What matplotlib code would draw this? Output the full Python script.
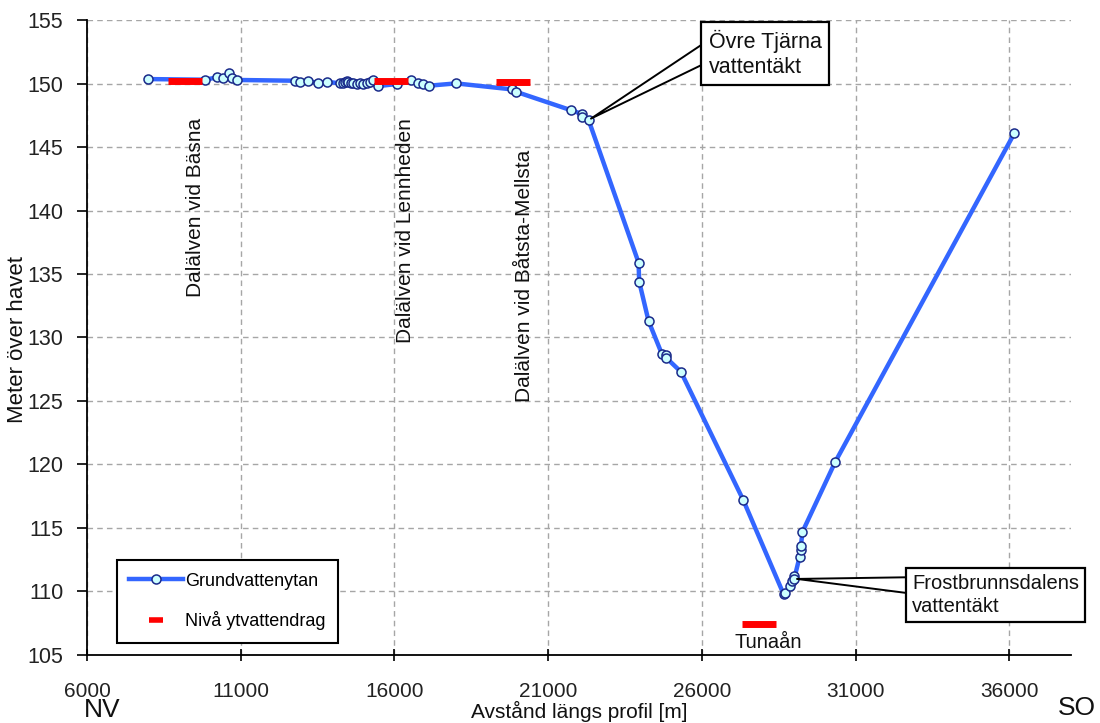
import matplotlib
matplotlib.use("Agg")
import matplotlib.pyplot as plt
from matplotlib.lines import Line2D

plt.rcParams['font.family'] = ['Liberation Sans', 'DejaVu Sans']

# Grundvattenytan (distance along profile [m], level [m ö.h.])
gw_x = [7995, 9839, 10239, 10434, 10620, 10707, 10869, 12767, 12930, 13201,
        13527, 13800, 14230, 14317, 14392, 14447, 14500, 14577, 14662, 14773,
        14880, 14988, 15098, 15205, 15314, 15478, 16075, 16541, 16778, 16941,
        17126, 18004, 19813, 19954, 21738, 22096, 22096, 22312, 23937, 23958,
        24262, 24696, 24837, 24837, 25315, 27342, 28652, 28707, 28869, 28924,
        28977, 29000, 29172, 29217, 29217, 29269, 30333, 36163]
gw_y = [150.35, 150.30, 150.49, 150.41, 150.85, 150.41, 150.28, 150.22, 150.09, 150.22,
        150.01, 150.14, 150.01, 150.06, 150.12, 150.22, 150.12, 150.01, 150.06, 149.96,
        150.01, 149.96, 150.06, 150.14, 150.28, 149.80, 149.96, 150.28, 150.01, 149.96,
        149.83, 150.01, 149.54, 149.35, 147.90, 147.60, 147.34, 147.13, 135.90, 134.40,
        131.30, 128.70, 128.60, 128.40, 127.30, 117.20, 109.80, 109.90, 110.40, 110.80,
        111.20, 111.00, 112.70, 113.30, 113.60, 114.70, 120.20, 146.10]

# Nivå ytvattendrag
sw_x = [9180, 15900, 19860, 27860]
sw_y = [150.20, 150.20, 150.10, 107.40]

# Labels
river_labels = ["Dalälven vid Bäsna", "Dalälven vid Lennheden", "Dalälven vid Båtsta-Mellsta"]
river_label_x = [9514, 16345, 20217]
river_label_top = [147.3, 147.3, 144.8]

xticks = [6000, 11000, 16000, 21000, 26000, 31000, 36000]
yticks = [105, 110, 115, 120, 125, 130, 135, 140, 145, 150, 155]

fig = plt.figure(figsize=(11, 7.23), dpi=100)
ax = fig.add_axes([0.0791, 0.0941, 0.8945, 0.8782])

ax.set_xlim(6000, 38000)
ax.set_ylim(105, 155)
ax.set_xticks(xticks)
ax.set_yticks(yticks)
ax.grid(True, color='#a6a6a6', linestyle=(0, (4, 3)), linewidth=1.0)
ax.set_axisbelow(True)

for s in ['top', 'right']:
    ax.spines[s].set_visible(False)
for s in ['left', 'bottom']:
    ax.spines[s].set_linewidth(1.3)
    ax.spines[s].set_color('black')

ax.tick_params(axis='y', direction='out', length=7, width=1.2, pad=10, labelsize=15.5, labelcolor='#222222')
ax.tick_params(axis='x', direction='inout', length=9, width=1.2, pad=15, labelsize=15, labelcolor='#222222')

ax.plot(gw_x, gw_y, color='#3366ff', linewidth=3.2, marker='o', markersize=6.5,
        markerfacecolor='#ccffff', markeredgecolor='#1a2a8a', markeredgewidth=1.1, zorder=3)
ax.plot(sw_x, sw_y, linestyle='none', marker='_', markersize=24, markeredgewidth=5,
        color='#ff0000', zorder=4)

for lab, lx, ly in zip(river_labels, river_label_x, river_label_top):
    ax.text(lx, ly, lab, rotation=90, ha='center', va='top', fontsize=15, color='#111111')

ax.text(28152, 106.0, "Tunaån", ha='center', va='center', fontsize=14.5, color='#111111')

# Callouts
ax.annotate("Övre Tjärna\nvattentäkt", xy=(gw_x[37], gw_y[37]), xytext=(28057, 152.36),
            ha='center', va='center', multialignment='left', fontsize=15.5, color='#111111',
            linespacing=1.25,
            bbox=dict(boxstyle='square,pad=0.35', fc='white', ec='black', lw=1.6),
            arrowprops=dict(arrowstyle='wedge,tail_width=0.85,shrink_factor=0.5',
                            fc='white', ec='black', lw=1.4, relpos=(0, 0.55), patchA=None),
            zorder=6)
ax.annotate("Frostbrunnsdalens\nvattentäkt", xy=(gw_x[51], gw_y[51]), xytext=(35560, 109.72),
            ha='center', va='center', multialignment='left', fontsize=14.5, color='#111111',
            linespacing=1.25,
            bbox=dict(boxstyle='square,pad=0.3', fc='white', ec='black', lw=1.6),
            arrowprops=dict(arrowstyle='wedge,tail_width=0.8,shrink_factor=0.5',
                            fc='white', ec='black', lw=1.4, relpos=(0, 0.73), patchA=None),
            zorder=6, annotation_clip=False)

# Legend
h1 = Line2D([], [], color='#3366ff', linewidth=3.2, marker='o', markersize=6.5,
            markerfacecolor='#ccffff', markeredgecolor='#1a2a8a', markeredgewidth=1.1)
h2 = Line2D([], [], linestyle='none', marker='_', markersize=10, markeredgewidth=4, color='#ff0000')
leg = ax.legend([h1, h2], ["Grundvattenytan", "Nivå ytvattendrag"], loc='lower left',
                bbox_to_anchor=(0.03, 0.019), borderaxespad=0, fontsize=13, fancybox=False,
                framealpha=1, edgecolor='black', handlelength=3.0, handletextpad=0.1,
                labelspacing=1.2, borderpad=0.7, numpoints=1)
leg.get_frame().set_linewidth(1.5)
leg.set_zorder(7)

fig.text(0.016, 0.53, "Meter över havet", rotation=90, ha='center', va='center', fontsize=16, color='#111111')
fig.text(0.527, 0.016, "Avstånd längs profil [m]", ha='center', va='center', fontsize=15, color='#111111')
fig.text(0.093, 0.018, "NV", ha='center', va='center', fontsize=19, color='#111111')
fig.text(0.979, 0.021, "SO", ha='center', va='center', fontsize=19, color='#111111')

fig.savefig("out.png", dpi=100)
